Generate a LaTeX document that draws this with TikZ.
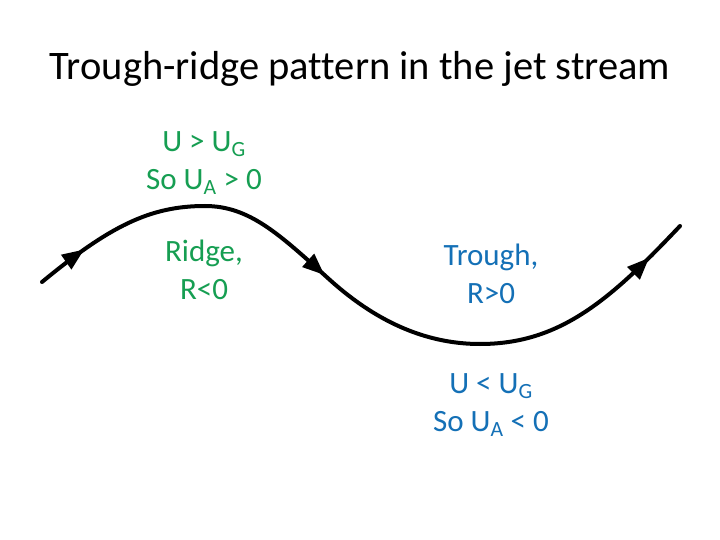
\documentclass[tikz,border=0pt]{standalone}
\usepackage{fontspec}
\setmainfont{Carlito}[Ligatures=NoCommon]
\usetikzlibrary{arrows.meta,decorations.markings}
\definecolor{ridgegreen}{RGB}{22,158,82}
\definecolor{troughblue}{RGB}{20,112,182}
\tikzset{
  jetline/.style={line width=4pt, line cap=round,
    postaction={decorate, decoration={markings,
      mark=at position 0.072 with {\arrow{Triangle[length=22pt,width=17pt]}},
      mark=at position 0.44 with {\arrow{Triangle[length=22pt,width=17pt]}},
      mark=at position 0.94 with {\arrow{Triangle[length=22pt,width=17pt]}}}}},
  lbl/.style={align=center, inner sep=0pt, font=\fontsize{31}{38}\selectfont}
}
\begin{document}
\begin{tikzpicture}[x=1pt, y=-1pt]
    \useasboundingbox (0,0) rectangle (720,540);
    \node[font=\fontsize{40.5}{48}\selectfont, anchor=base] (title) at (360,80)
      {Trough-ridge pattern in the jet stream};
    % labels
    \foreach \nm/\x/\y/\col/\et in {
      ug/204/163/ridgegreen/{U > U\textsubscript{G}\\So U\textsubscript{A} > 0},
      ridge/204/270/ridgegreen/{Ridge,\\R<0},
      trough/491/274/troughblue/{Trough,\\R>0},
      ua/491/405/troughblue/{U < U\textsubscript{G}\\So U\textsubscript{A} < 0}}
      {
        \node[lbl, text=\col] (\nm) at (\x,\y) {\et};
      }
    % jet stream
    \coordinate (w) at (42,282);
    \coordinate (crest) at (205,206);
    \coordinate (mid) at (330,280);
    \coordinate (base) at (480,344);
    \coordinate (e) at (680,226);
    \draw[jetline] (w) .. controls (110,226) and (150,206) .. (crest)
      .. controls (250,206) and (280,235) .. (mid)
      .. controls (380,325) and (430,344) .. (base)
      .. controls (560,344) and (610,300) .. (e);
\end{tikzpicture}
\end{document}
